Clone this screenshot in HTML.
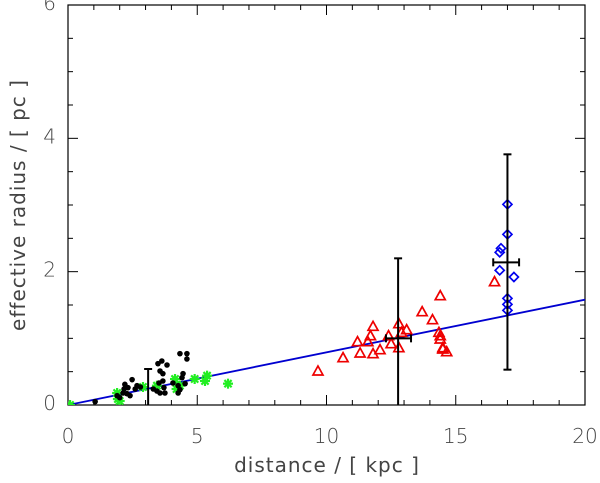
<!DOCTYPE html>
<html><head><meta charset="utf-8"><style>
body{margin:0;background:#fff;}
svg{display:block;font-family:"DejaVu Sans","Liberation Sans",sans-serif;}
</style></head><body>
<svg id="chart" width="600" height="483"></svg>
<script>
const blackX=[1.05,1.9,2.0,2.13,2.2,2.17,2.28,2.32,2.48,2.4,2.6,2.67,2.8,3.3,3.44,3.48,3.52,3.56,3.63,3.67,3.67,3.71,3.75,3.83,3.56,4.06,4.26,4.26,4.33,4.41,4.45,4.53,4.6,4.6,4.33];
const blackY=[0.05,0.14,0.11,0.18,0.31,0.24,0.17,0.26,0.38,0.14,0.24,0.29,0.27,0.24,0.21,0.62,0.33,0.51,0.66,0.47,0.36,0.26,0.18,0.60,0.18,0.33,0.29,0.18,0.77,0.41,0.47,0.32,0.69,0.77,0.23];
const greenX=[0.08,1.9,1.93,2.0,2.9,3.44,4.14,4.2,4.33,4.9,5.3,5.38,6.19];
const greenY=[0.0,0.18,0.09,0.06,0.27,0.29,0.39,0.24,0.29,0.39,0.36,0.44,0.32];
const redX=[9.67,10.64,11.2,11.3,11.7,11.8,11.6,11.8,12.07,12.4,12.5,12.8,12.8,12.9,13.1,13.7,14.1,14.4,14.35,14.4,14.4,14.5,14.5,14.65,16.5];
const redY=[0.51,0.71,0.95,0.78,1.04,1.18,0.95,0.77,0.83,1.04,0.92,1.22,0.86,1.09,1.13,1.40,1.28,1.64,1.09,1.04,0.99,0.86,0.84,0.80,1.85];
const blueX=[17.0,17.0,16.75,16.7,16.7,17.25,17.0,17.0,17.0];
const blueY=[3.01,2.56,2.35,2.29,2.02,1.92,1.6,1.51,1.42];
const errX=[3.1,12.77,17.0];
const errY=[0.25,1.0,2.14];
const errXlo=[3.1,12.3,16.45];
const errXhi=[3.1,13.27,17.45];
const errYlo=[-0.03,-0.3,0.53];
const errYhi=[0.54,2.2,3.76];
const fitX=[0,20];
const fitY=[0,1.58];
const xTicks=[0,5,10,15,20];
const yTicks=[0,2,4,6];

const NS="http://www.w3.org/2000/svg";
const svg=document.getElementById('chart');
const L=68,R=585,T=5,B=405;
const sx=v=>L+(v/20)*(R-L);
const sy=v=>B-(v/6)*(B-T);
function mk(tag,attrs,parent){const e=document.createElementNS(NS,tag);for(const k in attrs)e.setAttribute(k,attrs[k]);(parent||svg).appendChild(e);return e;}

const defs=mk('defs',{});
const cp=mk('clipPath',{id:'pc'},defs);
mk('rect',{x:L,y:T,width:R-L,height:B-T},cp);

const frame=mk('rect',{x:L,y:T,width:R-L,height:B-T,fill:'none',stroke:'#000','stroke-width':1.2});



const axes=mk('g',{stroke:'#000','stroke-width':1});


for(let v=0;v<=20;v+=1){const x=sx(v);const len=(v%5===0)?10:5;
 mk('line',{x1:x,y1:B,x2:x,y2:B-len},axes);mk('line',{x1:x,y1:T,x2:x,y2:T+len},axes);}
for(let v=0;v<=6;v+=0.5){const y=sy(v);const len=(v%2===0)?10:5;
 mk('line',{x1:L,y1:y,x2:L+len,y2:y},axes);mk('line',{x1:R,y1:y,x2:R-len,y2:y},axes);}

xTicks.forEach(v=>{const t=mk('text',{x:sx(v),y:443,'text-anchor':'middle','font-size':20,fill:'#444','font-weight':'200'});t.textContent=v;
 
 });
yTicks.forEach(v=>{const t=mk('text',{x:56,y:sy(v)+5,'text-anchor':'end','font-size':20,fill:'#444','font-weight':'200'});t.textContent=v;
 
 });
const xt=mk('text',{x:327,y:472,'text-anchor':'middle','font-size':20,fill:'#444','letter-spacing':'1'});xt.textContent='distance / [ kpc ]';


const yt=mk('text',{x:0,y:0,'text-anchor':'middle','font-size':20,fill:'#444','letter-spacing':'1',transform:'translate(25,205) rotate(-90)'});yt.textContent='effective radius / [ pc ]';



const g=mk('g',{'clip-path':'url(#pc)'});
const fit=mk('line',{x1:sx(fitX[0]),y1:sy(fitY[0]),x2:sx(fitX[1]),y2:sy(fitY[1]),stroke:'#0000d0','stroke-width':1.8},g);



greenX.forEach((x,i)=>{const cx=sx(x),cy=sy(greenY[i]);const s=mk('g',{stroke:'#22ee22','stroke-width':2.2},g);
 
 
 [[-5,0,5,0],[0,-5,0,5],[-3.6,-3.6,3.6,3.6],[-3.6,3.6,3.6,-3.6]].forEach(d=>mk('line',{x1:cx+d[0],y1:cy+d[1],x2:cx+d[2],y2:cy+d[3]},s));});
blackX.forEach((x,i)=>{const c=mk('circle',{cx:sx(x),cy:sy(blackY[i]),r:2.8,fill:'#000'},g);
 
 });
redX.forEach((x,i)=>{const cx=sx(x),cy=sy(redY[i]);const p=mk('polygon',{points:`${cx-5},${cy+4} ${cx+5},${cy+4} ${cx},${cy-5}`,fill:'none',stroke:'#ee0000','stroke-width':1.7},g);
 
 });
blueX.forEach((x,i)=>{const cx=sx(x),cy=sy(blueY[i]);const p=mk('polygon',{points:`${cx},${cy-4.5} ${cx+4.5},${cy} ${cx},${cy+4.5} ${cx-4.5},${cy}`,fill:'none',stroke:'#0000ee','stroke-width':1.7},g);
 
 });
errX.forEach((x,i)=>{const e=mk('g',{stroke:'#000','stroke-width':2},g);
 
 
 const X=sx(x),Y=sy(errY[i]),y1=sy(errYlo[i]),y2=sy(errYhi[i]),x1=sx(errXlo[i]),x2=sx(errXhi[i]);
 mk('line',{x1:X,y1:y1,x2:X,y2:y2},e);mk('line',{x1:X-4,y1:y1,x2:X+4,y2:y1},e);mk('line',{x1:X-4,y1:y2,x2:X+4,y2:y2},e);
 if(x2>x1){mk('line',{x1:x1,y1:Y,x2:x2,y2:Y},e);mk('line',{x1:x1,y1:Y-4,x2:x1,y2:Y+4},e);mk('line',{x1:x2,y1:Y-4,x2:x2,y2:Y+4},e);}});
</script>
</body></html>
